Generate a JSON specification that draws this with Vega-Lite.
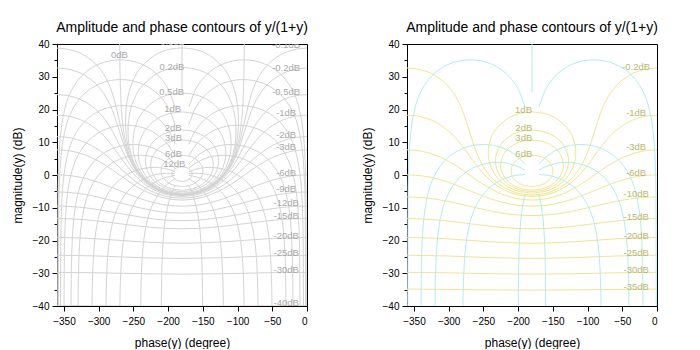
{
"$schema":"https://vega.github.io/schema/vega-lite/v6.json",
"background":"white",
"padding":{"left":10,"top":20,"right":0,"bottom":0},
"bounds":"flush",
"spacing":100,
"config":{"font":"Liberation Sans","view":{"stroke":"black","strokeWidth":1},
"title":{"fontSize":14,"fontWeight":"normal","color":"black","anchor":"middle","frame":"group","offset":4},
"axis":{"grid":false,"domainColor":"black","tickColor":"black","labelColor":"black","titleColor":"black","labelFontSize":10,"titleFontSize":12,"titleFontWeight":"normal","tickSize":5,"labelPadding":3},
"axisX":{"labelPadding":5,"titlePadding":11}},
"datasets":{
"gain":[
{"c":"g-0.1","x1":-180,"x2":-180,"y":-6.07},{"c":"g-0.1","x1":-160,"x2":-200,"y":-5.54},{"c":"g-0.1","x1":-140,"x2":-220,"y":-3.79},{"c":"g-0.1","x1":-120,"x2":-240,"y":-0.2},{"c":"g-0.1","x1":-110,"x2":-250,"y":2.89},{"c":"g-0.1","x1":-100,"x2":-260,"y":7.85},{"c":"g-0.1","x1":-90,"x2":-270,"y":16.33},{"c":"g-0.1","x1":-80,"x2":-280,"y":24.79},{"c":"g-0.1","x1":-70,"x2":-290,"y":29.75},{"c":"g-0.1","x1":-60,"x2":-300,"y":32.85},{"c":"g-0.1","x1":-40,"x2":-320,"y":36.46},{"c":"g-0.1","x1":-20,"x2":-340,"y":38.2},{"c":"g-0.1","x1":0,"x2":-360,"y":38.73},
{"c":"g-0.2","x1":-180,"x2":-180,"y":-6.12},{"c":"g-0.2","x1":-160,"x2":-200,"y":-5.59},{"c":"g-0.2","x1":-140,"x2":-220,"y":-3.88},{"c":"g-0.2","x1":-120,"x2":-240,"y":-0.38},{"c":"g-0.2","x1":-110,"x2":-250,"y":2.53},{"c":"g-0.2","x1":-100,"x2":-260,"y":6.9},{"c":"g-0.2","x1":-90,"x2":-270,"y":13.27},{"c":"g-0.2","x1":-80,"x2":-280,"y":19.63},{"c":"g-0.2","x1":-70,"x2":-290,"y":24},{"c":"g-0.2","x1":-60,"x2":-300,"y":26.92},{"c":"g-0.2","x1":-40,"x2":-320,"y":30.41},{"c":"g-0.2","x1":-20,"x2":-340,"y":32.13},{"c":"g-0.2","x1":0,"x2":-360,"y":32.66},
{"c":"g-0.5","x1":-180,"x2":-180,"y":-6.27},{"c":"g-0.5","x1":-160,"x2":-200,"y":-5.77},{"c":"g-0.5","x1":-140,"x2":-220,"y":-4.13},{"c":"g-0.5","x1":-120,"x2":-240,"y":-0.91},{"c":"g-0.5","x1":-110,"x2":-250,"y":1.61},{"c":"g-0.5","x1":-100,"x2":-260,"y":4.98},{"c":"g-0.5","x1":-90,"x2":-270,"y":9.14},{"c":"g-0.5","x1":-80,"x2":-280,"y":13.29},{"c":"g-0.5","x1":-70,"x2":-290,"y":16.66},{"c":"g-0.5","x1":-60,"x2":-300,"y":19.18},{"c":"g-0.5","x1":-40,"x2":-320,"y":22.4},{"c":"g-0.5","x1":-20,"x2":-340,"y":24.04},{"c":"g-0.5","x1":0,"x2":-360,"y":24.55},
{"c":"g-1","x1":-180,"x2":-180,"y":-6.54},{"c":"g-1","x1":-160,"x2":-200,"y":-6.06},{"c":"g-1","x1":-140,"x2":-220,"y":-4.54},{"c":"g-1","x1":-120,"x2":-240,"y":-1.68},{"c":"g-1","x1":-110,"x2":-250,"y":0.4},{"c":"g-1","x1":-100,"x2":-260,"y":2.96},{"c":"g-1","x1":-90,"x2":-270,"y":5.87},{"c":"g-1","x1":-80,"x2":-280,"y":8.78},{"c":"g-1","x1":-70,"x2":-290,"y":11.34},{"c":"g-1","x1":-60,"x2":-300,"y":13.42},{"c":"g-1","x1":-40,"x2":-320,"y":16.27},{"c":"g-1","x1":-20,"x2":-340,"y":17.79},{"c":"g-1","x1":0,"x2":-360,"y":18.27},
{"c":"g-2","x1":-180,"x2":-180,"y":-7.08},{"c":"g-2","x1":-160,"x2":-200,"y":-6.65},{"c":"g-2","x1":-140,"x2":-220,"y":-5.34},{"c":"g-2","x1":-120,"x2":-240,"y":-3.01},{"c":"g-2","x1":-110,"x2":-250,"y":-1.44},{"c":"g-2","x1":-100,"x2":-260,"y":0.37},{"c":"g-2","x1":-90,"x2":-270,"y":2.33},{"c":"g-2","x1":-80,"x2":-280,"y":4.29},{"c":"g-2","x1":-70,"x2":-290,"y":6.1},{"c":"g-2","x1":-60,"x2":-300,"y":7.67},{"c":"g-2","x1":-40,"x2":-320,"y":9.99},{"c":"g-2","x1":-20,"x2":-340,"y":11.31},{"c":"g-2","x1":0,"x2":-360,"y":11.74},
{"c":"g-3","x1":-180,"x2":-180,"y":-7.65},{"c":"g-3","x1":-160,"x2":-200,"y":-7.27},{"c":"g-3","x1":-140,"x2":-220,"y":-6.12},{"c":"g-3","x1":-120,"x2":-240,"y":-4.17},{"c":"g-3","x1":-110,"x2":-250,"y":-2.9},{"c":"g-3","x1":-100,"x2":-260,"y":-1.48},{"c":"g-3","x1":-90,"x2":-270,"y":0.02},{"c":"g-3","x1":-80,"x2":-280,"y":1.53},{"c":"g-3","x1":-70,"x2":-290,"y":2.94},{"c":"g-3","x1":-60,"x2":-300,"y":4.21},{"c":"g-3","x1":-40,"x2":-320,"y":6.17},{"c":"g-3","x1":-20,"x2":-340,"y":7.31},{"c":"g-3","x1":0,"x2":-360,"y":7.69},
{"c":"g-6","x1":-180,"x2":-180,"y":-9.53},{"c":"g-6","x1":-160,"x2":-200,"y":-9.26},{"c":"g-6","x1":-140,"x2":-220,"y":-8.48},{"c":"g-6","x1":-120,"x2":-240,"y":-7.23},{"c":"g-6","x1":-110,"x2":-250,"y":-6.45},{"c":"g-6","x1":-100,"x2":-260,"y":-5.62},{"c":"g-6","x1":-90,"x2":-270,"y":-4.74},{"c":"g-6","x1":-80,"x2":-280,"y":-3.87},{"c":"g-6","x1":-70,"x2":-290,"y":-3.03},{"c":"g-6","x1":-60,"x2":-300,"y":-2.26},{"c":"g-6","x1":-40,"x2":-320,"y":-1.01},{"c":"g-6","x1":-20,"x2":-340,"y":-0.22},{"c":"g-6","x1":0,"x2":-360,"y":0.04},
{"c":"g-9","x1":-180,"x2":-180,"y":-11.64},{"c":"g-9","x1":-160,"x2":-200,"y":-11.45},{"c":"g-9","x1":-140,"x2":-220,"y":-10.91},{"c":"g-9","x1":-120,"x2":-240,"y":-10.05},{"c":"g-9","x1":-100,"x2":-260,"y":-8.99},{"c":"g-9","x1":-90,"x2":-270,"y":-8.42},{"c":"g-9","x1":-80,"x2":-280,"y":-7.84},{"c":"g-9","x1":-60,"x2":-300,"y":-6.78},{"c":"g-9","x1":-40,"x2":-320,"y":-5.93},{"c":"g-9","x1":-20,"x2":-340,"y":-5.38},{"c":"g-9","x1":0,"x2":-360,"y":-5.19},
{"c":"g-10","x1":-180,"x2":-180,"y":-12.39},{"c":"g-10","x1":-160,"x2":-200,"y":-12.22},{"c":"g-10","x1":-140,"x2":-220,"y":-11.74},{"c":"g-10","x1":-120,"x2":-240,"y":-10.98},{"c":"g-10","x1":-100,"x2":-260,"y":-10.04},{"c":"g-10","x1":-90,"x2":-270,"y":-9.54},{"c":"g-10","x1":-80,"x2":-280,"y":-9.04},{"c":"g-10","x1":-60,"x2":-300,"y":-8.1},{"c":"g-10","x1":-40,"x2":-320,"y":-7.35},{"c":"g-10","x1":-20,"x2":-340,"y":-6.87},{"c":"g-10","x1":0,"x2":-360,"y":-6.7},
{"c":"g-12","x1":-180,"x2":-180,"y":-13.95},{"c":"g-12","x1":-160,"x2":-200,"y":-13.81},{"c":"g-12","x1":-140,"x2":-220,"y":-13.43},{"c":"g-12","x1":-120,"x2":-240,"y":-12.84},{"c":"g-12","x1":-100,"x2":-260,"y":-12.11},{"c":"g-12","x1":-90,"x2":-270,"y":-11.72},{"c":"g-12","x1":-80,"x2":-280,"y":-11.33},{"c":"g-12","x1":-60,"x2":-300,"y":-10.59},{"c":"g-12","x1":-40,"x2":-320,"y":-10},{"c":"g-12","x1":-20,"x2":-340,"y":-9.62},{"c":"g-12","x1":0,"x2":-360,"y":-9.49},
{"c":"g-15","x1":-180,"x2":-180,"y":-16.42},{"c":"g-15","x1":-160,"x2":-200,"y":-16.33},{"c":"g-15","x1":-140,"x2":-220,"y":-16.06},{"c":"g-15","x1":-120,"x2":-240,"y":-15.64},{"c":"g-15","x1":-100,"x2":-260,"y":-15.13},{"c":"g-15","x1":-90,"x2":-270,"y":-14.86},{"c":"g-15","x1":-80,"x2":-280,"y":-14.59},{"c":"g-15","x1":-60,"x2":-300,"y":-14.08},{"c":"g-15","x1":-40,"x2":-320,"y":-13.66},{"c":"g-15","x1":-20,"x2":-340,"y":-13.39},{"c":"g-15","x1":0,"x2":-360,"y":-13.3},
{"c":"g-20","x1":-180,"x2":-180,"y":-20.83},{"c":"g-20","x1":-140,"x2":-220,"y":-20.62},{"c":"g-20","x1":-120,"x2":-240,"y":-20.39},{"c":"g-20","x1":-90,"x2":-270,"y":-19.96},{"c":"g-20","x1":-60,"x2":-300,"y":-19.52},{"c":"g-20","x1":-40,"x2":-320,"y":-19.29},{"c":"g-20","x1":0,"x2":-360,"y":-19.08},
{"c":"g-25","x1":-180,"x2":-180,"y":-25.48},{"c":"g-25","x1":-120,"x2":-240,"y":-25.23},{"c":"g-25","x1":-90,"x2":-270,"y":-24.99},{"c":"g-25","x1":-60,"x2":-300,"y":-24.74},{"c":"g-25","x1":0,"x2":-360,"y":-24.5},
{"c":"g-30","x1":-180,"x2":-180,"y":-30.27},{"c":"g-30","x1":-120,"x2":-240,"y":-30.13},{"c":"g-30","x1":-90,"x2":-270,"y":-30},{"c":"g-30","x1":-60,"x2":-300,"y":-29.86},{"c":"g-30","x1":0,"x2":-360,"y":-29.72},
{"c":"g-35","x1":-180,"x2":-180,"y":-35.15},{"c":"g-35","x1":-120,"x2":-240,"y":-35.08},{"c":"g-35","x1":-90,"x2":-270,"y":-35},{"c":"g-35","x1":-60,"x2":-300,"y":-34.92},{"c":"g-35","x1":0,"x2":-360,"y":-34.84},
{"c":"g-40","x1":-180,"x2":-180,"y":-40.09},{"c":"g-40","x1":-120,"x2":-240,"y":-40.04},{"c":"g-40","x1":-90,"x2":-270,"y":-40},{"c":"g-40","x1":-60,"x2":-300,"y":-39.96},{"c":"g-40","x1":0,"x2":-360,"y":-39.91},
{"c":"g0","x1":-180,"x2":-180,"y":-6.02},{"c":"g0","x1":-160,"x2":-200,"y":-5.48},{"c":"g0","x1":-140,"x2":-220,"y":-3.71},{"c":"g0","x1":-120,"x2":-240,"y":0},{"c":"g0","x1":-110,"x2":-250,"y":3.3},{"c":"g0","x1":-100,"x2":-260,"y":9.19},{"c":"g0","x1":-95,"x2":-265,"y":15.17},{"c":"g0","x1":-92,"x2":-268,"y":23.12},{"c":"g0","x1":-91,"x2":-269,"y":29.14},{"c":"g0","x1":-90.5,"x2":-269.5,"y":35.16},{"c":"g0","x1":-90.2,"x2":-269.8,"y":43.12}
],
"loop":[
{"c":"m0.1","o":1,"x1":-180,"x2":-180,"y":38.82},{"c":"m0.1","o":2,"x1":-160,"x2":-200,"y":38.28},{"c":"m0.1","o":3,"x1":-140,"x2":-220,"y":36.48},{"c":"m0.1","o":4,"x1":-120,"x2":-240,"y":32.65},{"c":"m0.1","o":5,"x1":-110,"x2":-250,"y":29.1},{"c":"m0.1","o":6,"x1":-104,"x2":-256,"y":25.55},{"c":"m0.1","o":7,"x1":-101,"x2":-259,"y":22.62},{"c":"m0.1","o":8,"x1":-99.5,"x2":-260.5,"y":20.16},{"c":"m0.1","o":9,"x1":-98.68,"x2":-261.32,"y":16.43},{"c":"m0.1","o":10,"x1":-99.5,"x2":-260.5,"y":12.69},{"c":"m0.1","o":11,"x1":-101,"x2":-259,"y":10.24},{"c":"m0.1","o":12,"x1":-104,"x2":-256,"y":7.31},{"c":"m0.1","o":13,"x1":-110,"x2":-250,"y":3.76},{"c":"m0.1","o":14,"x1":-120,"x2":-240,"y":0.21},{"c":"m0.1","o":15,"x1":-140,"x2":-220,"y":-3.62},{"c":"m0.1","o":16,"x1":-160,"x2":-200,"y":-5.42},{"c":"m0.1","o":17,"x1":-180,"x2":-180,"y":-5.97},
{"c":"m0.2","o":1,"x1":-180,"x2":-180,"y":32.86},{"c":"m0.2","o":2,"x1":-160,"x2":-200,"y":32.3},{"c":"m0.2","o":3,"x1":-140,"x2":-220,"y":30.47},{"c":"m0.2","o":4,"x1":-120,"x2":-240,"y":26.51},{"c":"m0.2","o":5,"x1":-110,"x2":-250,"y":22.65},{"c":"m0.2","o":6,"x1":-106,"x2":-254,"y":20.03},{"c":"m0.2","o":7,"x1":-103.5,"x2":-256.5,"y":17.33},{"c":"m0.2","o":8,"x1":-102.7,"x2":-257.3,"y":15.8},{"c":"m0.2","o":9,"x1":-102.25,"x2":-257.75,"y":13.47},{"c":"m0.2","o":10,"x1":-102.7,"x2":-257.3,"y":11.13},{"c":"m0.2","o":11,"x1":-103.5,"x2":-256.5,"y":9.61},{"c":"m0.2","o":12,"x1":-106,"x2":-254,"y":6.9},{"c":"m0.2","o":13,"x1":-110,"x2":-250,"y":4.29},{"c":"m0.2","o":14,"x1":-120,"x2":-240,"y":0.42},{"c":"m0.2","o":15,"x1":-140,"x2":-220,"y":-3.53},{"c":"m0.2","o":16,"x1":-160,"x2":-200,"y":-5.37},{"c":"m0.2","o":17,"x1":-180,"x2":-180,"y":-5.92},
{"c":"m0.5","o":1,"x1":-180,"x2":-180,"y":25.05},{"c":"m0.5","o":2,"x1":-160,"x2":-200,"y":24.47},{"c":"m0.5","o":3,"x1":-140,"x2":-220,"y":22.54},{"c":"m0.5","o":4,"x1":-125,"x2":-235,"y":19.64},{"c":"m0.5","o":5,"x1":-117,"x2":-243,"y":16.96},{"c":"m0.5","o":6,"x1":-112.5,"x2":-247.5,"y":14.49},{"c":"m0.5","o":7,"x1":-110,"x2":-250,"y":12},{"c":"m0.5","o":8,"x1":-109.26,"x2":-250.74,"y":9.64},{"c":"m0.5","o":9,"x1":-110,"x2":-250,"y":7.28},{"c":"m0.5","o":10,"x1":-112.5,"x2":-247.5,"y":4.78},{"c":"m0.5","o":11,"x1":-117,"x2":-243,"y":2.32},{"c":"m0.5","o":12,"x1":-125,"x2":-235,"y":-0.37},{"c":"m0.5","o":13,"x1":-140,"x2":-220,"y":-3.27},{"c":"m0.5","o":14,"x1":-160,"x2":-200,"y":-5.2},{"c":"m0.5","o":15,"x1":-180,"x2":-180,"y":-5.77},
{"c":"m1","o":1,"x1":-180,"x2":-180,"y":19.27},{"c":"m1","o":2,"x1":-160,"x2":-200,"y":18.66},{"c":"m1","o":3,"x1":-145,"x2":-215,"y":17.27},{"c":"m1","o":4,"x1":-132,"x2":-228,"y":15.03},{"c":"m1","o":5,"x1":-124,"x2":-236,"y":12.69},{"c":"m1","o":6,"x1":-119.5,"x2":-240.5,"y":10.44},{"c":"m1","o":7,"x1":-117.7,"x2":-242.3,"y":8.81},{"c":"m1","o":8,"x1":-116.97,"x2":-243.03,"y":6.87},{"c":"m1","o":9,"x1":-117.7,"x2":-242.3,"y":4.93},{"c":"m1","o":10,"x1":-119.5,"x2":-240.5,"y":3.3},{"c":"m1","o":11,"x1":-124,"x2":-236,"y":1.05},{"c":"m1","o":12,"x1":-132,"x2":-228,"y":-1.3},{"c":"m1","o":13,"x1":-145,"x2":-215,"y":-3.53},{"c":"m1","o":14,"x1":-160,"x2":-200,"y":-4.92},{"c":"m1","o":15,"x1":-180,"x2":-180,"y":-5.54},
{"c":"m2","o":1,"x1":-180,"x2":-180,"y":13.74},{"c":"m2","o":2,"x1":-165,"x2":-195,"y":13.35},{"c":"m2","o":3,"x1":-150,"x2":-210,"y":12.08},{"c":"m2","o":4,"x1":-140,"x2":-220,"y":10.48},{"c":"m2","o":5,"x1":-134,"x2":-226,"y":8.93},{"c":"m2","o":6,"x1":-130,"x2":-230,"y":7.28},{"c":"m2","o":7,"x1":-128,"x2":-232,"y":5.75},{"c":"m2","o":8,"x1":-127.41,"x2":-232.59,"y":4.33},{"c":"m2","o":9,"x1":-128,"x2":-232,"y":2.91},{"c":"m2","o":10,"x1":-130,"x2":-230,"y":1.38},{"c":"m2","o":11,"x1":-134,"x2":-226,"y":-0.27},{"c":"m2","o":12,"x1":-140,"x2":-220,"y":-1.82},{"c":"m2","o":13,"x1":-150,"x2":-210,"y":-3.42},{"c":"m2","o":14,"x1":-165,"x2":-195,"y":-4.7},{"c":"m2","o":15,"x1":-180,"x2":-180,"y":-5.08},
{"c":"m3","o":1,"x1":-180,"x2":-180,"y":10.69},{"c":"m3","o":2,"x1":-165,"x2":-195,"y":10.26},{"c":"m3","o":3,"x1":-152,"x2":-208,"y":9.04},{"c":"m3","o":4,"x1":-144,"x2":-216,"y":7.65},{"c":"m3","o":5,"x1":-139,"x2":-221,"y":6.22},{"c":"m3","o":6,"x1":-136.5,"x2":-223.5,"y":5.04},{"c":"m3","o":7,"x1":-135.4,"x2":-224.6,"y":4.13},{"c":"m3","o":8,"x1":-134.93,"x2":-225.07,"y":3.02},{"c":"m3","o":9,"x1":-135.4,"x2":-224.6,"y":1.91},{"c":"m3","o":10,"x1":-136.5,"x2":-223.5,"y":1.01},{"c":"m3","o":11,"x1":-139,"x2":-221,"y":-0.18},{"c":"m3","o":12,"x1":-144,"x2":-216,"y":-1.61},{"c":"m3","o":13,"x1":-152,"x2":-208,"y":-3},{"c":"m3","o":14,"x1":-165,"x2":-195,"y":-4.22},{"c":"m3","o":15,"x1":-180,"x2":-180,"y":-4.65},
{"c":"m6","o":1,"x1":-180,"x2":-180,"y":6.04},{"c":"m6","o":2,"x1":-170,"x2":-190,"y":5.77},{"c":"m6","o":3,"x1":-162,"x2":-198,"y":5.09},{"c":"m6","o":4,"x1":-156,"x2":-204,"y":4.14},{"c":"m6","o":5,"x1":-152.5,"x2":-207.5,"y":3.2},{"c":"m6","o":6,"x1":-150.7,"x2":-209.3,"y":2.34},{"c":"m6","o":7,"x1":-149.92,"x2":-210.08,"y":1.26},{"c":"m6","o":8,"x1":-150.7,"x2":-209.3,"y":0.17},{"c":"m6","o":9,"x1":-152.5,"x2":-207.5,"y":-0.68},{"c":"m6","o":10,"x1":-156,"x2":-204,"y":-1.63},{"c":"m6","o":11,"x1":-162,"x2":-198,"y":-2.58},{"c":"m6","o":12,"x1":-170,"x2":-190,"y":-3.26},{"c":"m6","o":13,"x1":-180,"x2":-180,"y":-3.53},
{"c":"m12","o":1,"x1":-180,"x2":-180,"y":2.51},{"c":"m12","o":2,"x1":-174,"x2":-186,"y":2.31},{"c":"m12","o":3,"x1":-170,"x2":-190,"y":1.9},{"c":"m12","o":4,"x1":-167,"x2":-193,"y":1.28},{"c":"m12","o":5,"x1":-165.8,"x2":-194.2,"y":0.77},{"c":"m12","o":6,"x1":-165.45,"x2":-194.55,"y":0.29},{"c":"m12","o":7,"x1":-165.8,"x2":-194.2,"y":-0.2},{"c":"m12","o":8,"x1":-167,"x2":-193,"y":-0.72},{"c":"m12","o":9,"x1":-170,"x2":-190,"y":-1.34},{"c":"m12","o":10,"x1":-174,"x2":-186,"y":-1.75},{"c":"m12","o":11,"x1":-180,"x2":-180,"y":-1.95}
],
"phase":[
{"c":"p1","x1":-1.005,"x2":-358.995,"y":-46},{"c":"p1","x1":-1.5,"x2":-358.5,"y":-6.02},{"c":"p1","x1":-2,"x2":-358,"y":0},{"c":"p1","x1":-3,"x2":-357,"y":6.02},{"c":"p1","x1":-4,"x2":-356,"y":9.54},{"c":"p1","x1":-6,"x2":-354,"y":13.97},{"c":"p1","x1":-11,"x2":-349,"y":19.95},{"c":"p1","x1":-21,"x2":-339,"y":25.84},{"c":"p1","x1":-31,"x2":-329,"y":29.14},{"c":"p1","x1":-46,"x2":-314,"y":32.15},{"c":"p1","x1":-61,"x2":-299,"y":33.91},{"c":"p1","x1":-76,"x2":-284,"y":34.86},{"c":"p1","x1":-91,"x2":-269,"y":35.16},{"c":"p1","x1":-106,"x2":-254,"y":34.86},{"c":"p1","x1":-121,"x2":-239,"y":33.91},{"c":"p1","x1":-136,"x2":-224,"y":32.15},{"c":"p1","x1":-151,"x2":-209,"y":29.14},{"c":"p1","x1":-161,"x2":-199,"y":25.84},{"c":"p1","x1":-170,"x2":-190,"y":20.77},
{"c":"p2","x1":-2.01,"x2":-357.99,"y":-46},{"c":"p2","x1":-2.5,"x2":-357.5,"y":-12.04},{"c":"p2","x1":-3,"x2":-357,"y":-6.02},{"c":"p2","x1":-4,"x2":-356,"y":0},{"c":"p2","x1":-5,"x2":-355,"y":3.52},{"c":"p2","x1":-7,"x2":-353,"y":7.95},{"c":"p2","x1":-12,"x2":-348,"y":13.93},{"c":"p2","x1":-22,"x2":-338,"y":19.82},{"c":"p2","x1":-32,"x2":-328,"y":23.12},{"c":"p2","x1":-47,"x2":-313,"y":26.13},{"c":"p2","x1":-62,"x2":-298,"y":27.89},{"c":"p2","x1":-77,"x2":-283,"y":28.84},{"c":"p2","x1":-92,"x2":-268,"y":29.14},{"c":"p2","x1":-107,"x2":-253,"y":28.84},{"c":"p2","x1":-122,"x2":-238,"y":27.89},{"c":"p2","x1":-137,"x2":-223,"y":26.13},{"c":"p2","x1":-152,"x2":-208,"y":23.12},{"c":"p2","x1":-162,"x2":-198,"y":19.82},{"c":"p2","x1":-170,"x2":-190,"y":15.5},
{"c":"p5","x1":-5.025,"x2":-354.975,"y":-46},{"c":"p5","x1":-5.5,"x2":-354.5,"y":-19.99},{"c":"p5","x1":-6,"x2":-354,"y":-13.97},{"c":"p5","x1":-7,"x2":-353,"y":-7.95},{"c":"p5","x1":-8,"x2":-352,"y":-4.43},{"c":"p5","x1":-10,"x2":-350,"y":0},{"c":"p5","x1":-12,"x2":-348,"y":2.91},{"c":"p5","x1":-15,"x2":-345,"y":5.98},{"c":"p5","x1":-25,"x2":-335,"y":11.87},{"c":"p5","x1":-35,"x2":-325,"y":15.17},{"c":"p5","x1":-50,"x2":-310,"y":18.18},{"c":"p5","x1":-65,"x2":-295,"y":19.94},{"c":"p5","x1":-80,"x2":-280,"y":20.89},{"c":"p5","x1":-95,"x2":-265,"y":21.19},{"c":"p5","x1":-110,"x2":-250,"y":20.89},{"c":"p5","x1":-125,"x2":-235,"y":19.94},{"c":"p5","x1":-140,"x2":-220,"y":18.18},{"c":"p5","x1":-155,"x2":-205,"y":15.17},{"c":"p5","x1":-165,"x2":-195,"y":11.87},{"c":"p5","x1":-170,"x2":-190,"y":9.45},
{"c":"p10","x1":-10.05,"x2":-349.95,"y":-46},{"c":"p10","x1":-10.5,"x2":-349.5,"y":-25.97},{"c":"p10","x1":-11,"x2":-349,"y":-19.95},{"c":"p10","x1":-12,"x2":-348,"y":-13.93},{"c":"p10","x1":-13,"x2":-347,"y":-10.41},{"c":"p10","x1":-15,"x2":-345,"y":-5.98},{"c":"p10","x1":-17,"x2":-343,"y":-3.07},{"c":"p10","x1":-20,"x2":-340,"y":0},{"c":"p10","x1":-25,"x2":-335,"y":3.47},{"c":"p10","x1":-30,"x2":-330,"y":5.89},{"c":"p10","x1":-40,"x2":-320,"y":9.19},{"c":"p10","x1":-55,"x2":-305,"y":12.2},{"c":"p10","x1":-70,"x2":-290,"y":13.96},{"c":"p10","x1":-85,"x2":-275,"y":14.91},{"c":"p10","x1":-100,"x2":-260,"y":15.21},{"c":"p10","x1":-115,"x2":-245,"y":14.91},{"c":"p10","x1":-130,"x2":-230,"y":13.96},{"c":"p10","x1":-145,"x2":-215,"y":12.2},{"c":"p10","x1":-160,"x2":-200,"y":9.19},{"c":"p10","x1":-170,"x2":-190,"y":5.89},
{"c":"p20","x1":-20.098,"x2":-339.902,"y":-46},{"c":"p20","x1":-20.5,"x2":-339.5,"y":-31.86},{"c":"p20","x1":-21,"x2":-339,"y":-25.84},{"c":"p20","x1":-22,"x2":-338,"y":-19.82},{"c":"p20","x1":-23,"x2":-337,"y":-16.3},{"c":"p20","x1":-25,"x2":-335,"y":-11.87},{"c":"p20","x1":-27,"x2":-333,"y":-8.96},{"c":"p20","x1":-30,"x2":-330,"y":-5.89},{"c":"p20","x1":-35,"x2":-325,"y":-2.42},{"c":"p20","x1":-40,"x2":-320,"y":0},{"c":"p20","x1":-50,"x2":-310,"y":3.3},{"c":"p20","x1":-65,"x2":-295,"y":6.31},{"c":"p20","x1":-80,"x2":-280,"y":8.07},{"c":"p20","x1":-95,"x2":-265,"y":9.02},{"c":"p20","x1":-110,"x2":-250,"y":9.32},{"c":"p20","x1":-125,"x2":-235,"y":9.02},{"c":"p20","x1":-140,"x2":-220,"y":8.07},{"c":"p20","x1":-155,"x2":-205,"y":6.31},{"c":"p20","x1":-170,"x2":-190,"y":3.3},
{"c":"p30","x1":-30.144,"x2":-329.856,"y":-46},{"c":"p30","x1":-30.5,"x2":-329.5,"y":-35.16},{"c":"p30","x1":-31,"x2":-329,"y":-29.14},{"c":"p30","x1":-32,"x2":-328,"y":-23.12},{"c":"p30","x1":-33,"x2":-327,"y":-19.6},{"c":"p30","x1":-35,"x2":-325,"y":-15.17},{"c":"p30","x1":-37,"x2":-323,"y":-12.26},{"c":"p30","x1":-40,"x2":-320,"y":-9.19},{"c":"p30","x1":-45,"x2":-315,"y":-5.72},{"c":"p30","x1":-50,"x2":-310,"y":-3.3},{"c":"p30","x1":-60,"x2":-300,"y":0},{"c":"p30","x1":-75,"x2":-285,"y":3.01},{"c":"p30","x1":-90,"x2":-270,"y":4.77},{"c":"p30","x1":-105,"x2":-255,"y":5.72},{"c":"p30","x1":-120,"x2":-240,"y":6.02},{"c":"p30","x1":-135,"x2":-225,"y":5.72},{"c":"p30","x1":-150,"x2":-210,"y":4.77},{"c":"p30","x1":-170,"x2":-190,"y":2.18},
{"c":"p40","x1":-40.185,"x2":-319.815,"y":-46},{"c":"p40","x1":-40.5,"x2":-319.5,"y":-37.34},{"c":"p40","x1":-41,"x2":-319,"y":-31.32},{"c":"p40","x1":-42,"x2":-318,"y":-25.3},{"c":"p40","x1":-43,"x2":-317,"y":-21.78},{"c":"p40","x1":-45,"x2":-315,"y":-17.35},{"c":"p40","x1":-47,"x2":-313,"y":-14.44},{"c":"p40","x1":-50,"x2":-310,"y":-11.37},{"c":"p40","x1":-55,"x2":-305,"y":-7.9},{"c":"p40","x1":-60,"x2":-300,"y":-5.48},{"c":"p40","x1":-70,"x2":-290,"y":-2.18},{"c":"p40","x1":-85,"x2":-275,"y":0.83},{"c":"p40","x1":-100,"x2":-260,"y":2.59},{"c":"p40","x1":-115,"x2":-245,"y":3.54},{"c":"p40","x1":-130,"x2":-230,"y":3.84},{"c":"p40","x1":-145,"x2":-215,"y":3.54},{"c":"p40","x1":-160,"x2":-200,"y":2.59},{"c":"p40","x1":-170,"x2":-190,"y":1.52},
{"c":"p50","x1":-50.22,"x2":-309.78,"y":-46},{"c":"p50","x1":-50.5,"x2":-309.5,"y":-38.87},{"c":"p50","x1":-51,"x2":-309,"y":-32.85},{"c":"p50","x1":-52,"x2":-308,"y":-26.83},{"c":"p50","x1":-53,"x2":-307,"y":-23.31},{"c":"p50","x1":-55,"x2":-305,"y":-18.88},{"c":"p50","x1":-57,"x2":-303,"y":-15.97},{"c":"p50","x1":-60,"x2":-300,"y":-12.9},{"c":"p50","x1":-65,"x2":-295,"y":-9.43},{"c":"p50","x1":-70,"x2":-290,"y":-7},{"c":"p50","x1":-80,"x2":-280,"y":-3.71},{"c":"p50","x1":-95,"x2":-265,"y":-0.7},{"c":"p50","x1":-110,"x2":-250,"y":1.07},{"c":"p50","x1":-125,"x2":-235,"y":2.01},{"c":"p50","x1":-140,"x2":-220,"y":2.32},{"c":"p50","x1":-155,"x2":-205,"y":2.01},{"c":"p50","x1":-170,"x2":-190,"y":1.07},
{"c":"p70","x1":-70.27,"x2":-289.73,"y":-46},{"c":"p70","x1":-70.5,"x2":-289.5,"y":-40.64},{"c":"p70","x1":-71,"x2":-289,"y":-34.62},{"c":"p70","x1":-72,"x2":-288,"y":-28.6},{"c":"p70","x1":-73,"x2":-287,"y":-25.08},{"c":"p70","x1":-75,"x2":-285,"y":-20.65},{"c":"p70","x1":-77,"x2":-283,"y":-17.74},{"c":"p70","x1":-80,"x2":-280,"y":-14.67},{"c":"p70","x1":-85,"x2":-275,"y":-11.2},{"c":"p70","x1":-90,"x2":-270,"y":-8.78},{"c":"p70","x1":-100,"x2":-260,"y":-5.48},{"c":"p70","x1":-115,"x2":-245,"y":-2.47},{"c":"p70","x1":-130,"x2":-230,"y":-0.71},{"c":"p70","x1":-145,"x2":-215,"y":0.24},{"c":"p70","x1":-160,"x2":-200,"y":0.54},{"c":"p70","x1":-170,"x2":-190,"y":0.41},
{"c":"p80","x1":-80.283,"x2":-279.717,"y":-46},{"c":"p80","x1":-80.5,"x2":-279.5,"y":-41.05},{"c":"p80","x1":-81,"x2":-279,"y":-35.03},{"c":"p80","x1":-82,"x2":-278,"y":-29.01},{"c":"p80","x1":-83,"x2":-277,"y":-25.49},{"c":"p80","x1":-85,"x2":-275,"y":-21.06},{"c":"p80","x1":-87,"x2":-273,"y":-18.15},{"c":"p80","x1":-90,"x2":-270,"y":-15.08},{"c":"p80","x1":-95,"x2":-265,"y":-11.61},{"c":"p80","x1":-100,"x2":-260,"y":-9.19},{"c":"p80","x1":-110,"x2":-250,"y":-5.89},{"c":"p80","x1":-125,"x2":-235,"y":-2.88},{"c":"p80","x1":-140,"x2":-220,"y":-1.12},{"c":"p80","x1":-155,"x2":-205,"y":-0.17},{"c":"p80","x1":-170,"x2":-190,"y":0.13},
{"c":"p90","x1":-90.287,"x2":-269.713,"y":-46},{"c":"p90","x1":-90.5,"x2":-269.5,"y":-41.18},{"c":"p90","x1":-91,"x2":-269,"y":-35.16},{"c":"p90","x1":-92,"x2":-268,"y":-29.14},{"c":"p90","x1":-93,"x2":-267,"y":-25.62},{"c":"p90","x1":-95,"x2":-265,"y":-21.19},{"c":"p90","x1":-97,"x2":-263,"y":-18.28},{"c":"p90","x1":-100,"x2":-260,"y":-15.21},{"c":"p90","x1":-105,"x2":-255,"y":-11.74},{"c":"p90","x1":-110,"x2":-250,"y":-9.32},{"c":"p90","x1":-120,"x2":-240,"y":-6.02},{"c":"p90","x1":-135,"x2":-225,"y":-3.01},{"c":"p90","x1":-150,"x2":-210,"y":-1.25},{"c":"p90","x1":-160,"x2":-200,"y":-0.54},{"c":"p90","x1":-170,"x2":-190,"y":-0.13},
{"c":"p120","x1":-120.249,"x2":-239.751,"y":-46},{"c":"p120","x1":-120.5,"x2":-239.5,"y":-39.93},{"c":"p120","x1":-121,"x2":-239,"y":-33.91},{"c":"p120","x1":-122,"x2":-238,"y":-27.89},{"c":"p120","x1":-123,"x2":-237,"y":-24.37},{"c":"p120","x1":-125,"x2":-235,"y":-19.94},{"c":"p120","x1":-127,"x2":-233,"y":-17.03},{"c":"p120","x1":-130,"x2":-230,"y":-13.96},{"c":"p120","x1":-135,"x2":-225,"y":-10.49},{"c":"p120","x1":-140,"x2":-220,"y":-8.07},{"c":"p120","x1":-150,"x2":-210,"y":-4.77},{"c":"p120","x1":-160,"x2":-200,"y":-2.59},{"c":"p120","x1":-170,"x2":-190,"y":-1.07},
{"c":"p150","x1":-150.144,"x2":-209.856,"y":-46},{"c":"p150","x1":-150.5,"x2":-209.5,"y":-35.16},{"c":"p150","x1":-151,"x2":-209,"y":-29.14},{"c":"p150","x1":-152,"x2":-208,"y":-23.12},{"c":"p150","x1":-153,"x2":-207,"y":-19.6},{"c":"p150","x1":-155,"x2":-205,"y":-15.17},{"c":"p150","x1":-157,"x2":-203,"y":-12.26},{"c":"p150","x1":-160,"x2":-200,"y":-9.19},{"c":"p150","x1":-165,"x2":-195,"y":-5.72},{"c":"p150","x1":-170,"x2":-190,"y":-3.3},
{"c":"p160","x1":-160.098,"x2":-199.902,"y":-46},{"c":"p160","x1":-160.5,"x2":-199.5,"y":-31.86},{"c":"p160","x1":-161,"x2":-199,"y":-25.84},{"c":"p160","x1":-162,"x2":-198,"y":-19.82},{"c":"p160","x1":-163,"x2":-197,"y":-16.3},{"c":"p160","x1":-165,"x2":-195,"y":-11.87},{"c":"p160","x1":-167,"x2":-193,"y":-8.96},{"c":"p160","x1":-170,"x2":-190,"y":-5.89}
],
"vl":[{"x":-180,"y":25.1,"y2":40}],
"lab":[
{"p":"L","t":"0dB","x":-270,"y":36.6},{"p":"L","t":"0.1dB","x":-193.5,"y":40.6},{"p":"L","t":"0.2dB","x":-194.5,"y":33},{"p":"L","t":"0.5dB","x":-195,"y":25.3},{"p":"L","t":"1dB","x":-193.5,"y":20.2},{"p":"L","t":"2dB","x":-192.7,"y":14.4},{"p":"L","t":"3dB","x":-192.2,"y":11.3},{"p":"L","t":"6dB","x":-192.2,"y":6.5},{"p":"L","t":"12dB","x":-191,"y":3.3},
{"p":"L","t":"-0.1dB","x":-30,"y":39.7},{"p":"L","t":"-0.2dB","x":-30,"y":32.8},{"p":"L","t":"-0.5dB","x":-30,"y":25.3},{"p":"L","t":"-1dB","x":-30,"y":19},{"p":"L","t":"-2dB","x":-30,"y":12.3},{"p":"L","t":"-3dB","x":-30,"y":8.55},{"p":"L","t":"-6dB","x":-30,"y":0.7},{"p":"L","t":"-9dB","x":-30,"y":-4.4},{"p":"L","t":"-12dB","x":-30,"y":-8.45},{"p":"L","t":"-15dB","x":-30,"y":-12.5},{"p":"L","t":"-20dB","x":-30,"y":-18.6},{"p":"L","t":"-25dB","x":-30,"y":-23.7},{"p":"L","t":"-30dB","x":-30,"y":-29},{"p":"L","t":"-40dB","x":-30,"y":-39},
{"p":"R","t":"1dB","x":-192.2,"y":20},{"p":"R","t":"2dB","x":-191.8,"y":14.4},{"p":"R","t":"3dB","x":-191.8,"y":11.3},{"p":"R","t":"6dB","x":-191.8,"y":6.5},
{"p":"R","t":"-0.2dB","x":-30,"y":33.1},{"p":"R","t":"-1dB","x":-30,"y":19},{"p":"R","t":"-3dB","x":-30,"y":8.45},{"p":"R","t":"-6dB","x":-30,"y":0.7},{"p":"R","t":"-10dB","x":-30,"y":-5.8},{"p":"R","t":"-15dB","x":-30,"y":-12.7},{"p":"R","t":"-20dB","x":-30,"y":-18.5},{"p":"R","t":"-25dB","x":-30,"y":-23.9},{"p":"R","t":"-30dB","x":-30,"y":-29.1},{"p":"R","t":"-35dB","x":-30,"y":-34.1}
]
},
"hconcat":[
{"width":250,"height":262,"title":"Amplitude and phase contours of y/(1+y)",
"encoding":{"x":{"field":"x","type":"quantitative","scale":{"domain":[-360,0],"nice":false,"zero":false},"axis":{"title":"phase(y) (degree)","values":[-350,-300,-250,-200,-150,-100,-50,0]}},
"y":{"field":"y","type":"quantitative","scale":{"domain":[-40,40],"nice":false,"zero":false},"axis":{"title":"magnitude(y) (dB)","values":[-40,-35,-30,-25,-20,-15,-10,-5,0,5,10,15,20,25,30,35,40],"labelExpr":"datum.value % 10 === 0 ? datum.label : ''","tickSize":{"condition":{"test":"datum.value % 10 !== 0","value":3},"value":5},"titlePadding":8}}},
"layer":[
{"data":{"name":"gain"},"transform":[{"filter":{"field":"c","oneOf":["g-0.1","g-0.2","g-0.5","g-1","g-2","g-3","g-6","g-9","g-12","g-15","g-20","g-25","g-30","g-40","g0"]}},{"fold":["x1","x2"],"as":["k","x"]}],
"mark":{"type":"line","interpolate":"monotone","clip":true,"strokeWidth":1,"color":"#d3d3d3"},
"encoding":{"detail":[{"field":"c"},{"field":"k"}]}},
{"data":{"name":"loop"},"transform":[{"filter":{"field":"c","oneOf":["m0.1","m0.2","m0.5","m1","m2","m3","m6","m12"]}},{"fold":["x1","x2"],"as":["k","x"]}],
"mark":{"type":"line","interpolate":"cardinal","clip":true,"strokeWidth":1,"color":"#d3d3d3"},
"encoding":{"order":{"field":"o","type":"quantitative"},"detail":[{"field":"c"},{"field":"k"}]}},
{"data":{"name":"phase"},"transform":[{"filter":{"field":"c","oneOf":["p1","p2","p5","p10","p20","p30","p50","p70","p90","p120","p150"]}},{"fold":["x1","x2"],"as":["k","x"]}],
"mark":{"type":"line","interpolate":"monotone","clip":true,"strokeWidth":1,"color":"#d3d3d3"},
"encoding":{"detail":[{"field":"c"},{"field":"k"}]}},
{"data":{"name":"vl"},"mark":{"type":"rule","clip":true,"strokeWidth":1,"color":"#d3d3d3"},
"encoding":{"y2":{"field":"y2"}}},
{"data":{"name":"lab"},"transform":[{"filter":{"field":"p","equal":"L"}}],
"mark":{"type":"text","clip":true,"fontSize":9.5,"color":"#a9a9a9","align":"center","baseline":"middle"},
"encoding":{"text":{"field":"t"}}}
]},
{"width":250,"height":262,"title":"Amplitude and phase contours of y/(1+y)",
"encoding":{"x":{"field":"x","type":"quantitative","scale":{"domain":[-360,0],"nice":false,"zero":false},"axis":{"title":"phase(y) (degree)","values":[-350,-300,-250,-200,-150,-100,-50,0]}},
"y":{"field":"y","type":"quantitative","scale":{"domain":[-40,40],"nice":false,"zero":false},"axis":{"title":"magnitude(y) (dB)","values":[-40,-35,-30,-25,-20,-15,-10,-5,0,5,10,15,20,25,30,35,40],"labelExpr":"datum.value % 10 === 0 ? datum.label : ''","tickSize":{"condition":{"test":"datum.value % 10 !== 0","value":3},"value":5},"titlePadding":8}}},
"layer":[
{"data":{"name":"gain"},"transform":[{"filter":{"field":"c","oneOf":["g-0.2","g-1","g-3","g-6","g-10","g-15","g-20","g-25","g-30","g-35"]}},{"fold":["x1","x2"],"as":["k","x"]}],
"mark":{"type":"line","interpolate":"monotone","clip":true,"strokeWidth":1,"color":"#f0e68c"},
"encoding":{"detail":[{"field":"c"},{"field":"k"}]}},
{"data":{"name":"loop"},"transform":[{"filter":{"field":"c","oneOf":["m1","m2","m3","m6"]}},{"fold":["x1","x2"],"as":["k","x"]}],
"mark":{"type":"line","interpolate":"cardinal","clip":true,"strokeWidth":1,"color":"#f0e68c"},
"encoding":{"order":{"field":"o","type":"quantitative"},"detail":[{"field":"c"},{"field":"k"}]}},
{"data":{"name":"phase"},"transform":[{"filter":{"field":"c","oneOf":["p1","p20","p40","p80","p160"]}},{"fold":["x1","x2"],"as":["k","x"]}],
"mark":{"type":"line","interpolate":"monotone","clip":true,"strokeWidth":1,"color":"#aeeeee"},
"encoding":{"detail":[{"field":"c"},{"field":"k"}]}},
{"data":{"name":"vl"},"mark":{"type":"rule","clip":true,"strokeWidth":1,"color":"#aeeeee"},
"encoding":{"y2":{"field":"y2"}}},
{"data":{"name":"lab"},"transform":[{"filter":{"field":"p","equal":"R"}}],
"mark":{"type":"text","clip":true,"fontSize":9.5,"color":"#bdb76b","align":"center","baseline":"middle"},
"encoding":{"text":{"field":"t"}}}
]}
]
}
